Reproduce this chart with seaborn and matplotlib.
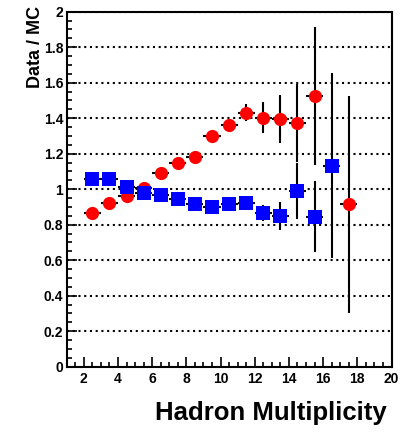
import numpy as np
import pandas as pd
import matplotlib
matplotlib.use("Agg")
import matplotlib.pyplot as plt
from matplotlib.ticker import MultipleLocator
import seaborn as sns

# ---- data ----
mult_a = [2.5, 3.5, 4.5, 5.5, 6.5, 7.5, 8.5, 9.5, 10.5, 11.5, 12.5, 13.5, 14.5, 15.5, 17.5]
ratio_a = [0.868, 0.921, 0.962, 1.006, 1.094, 1.146, 1.184, 1.300, 1.362, 1.432, 1.402, 1.394, 1.375, 1.526, 0.915]
err_a = [0.01, 0.01, 0.01, 0.015, 0.015, 0.02, 0.025, 0.03, 0.035, 0.05, 0.087, 0.135, 0.22, 0.39, 0.61]

mult_b = [2.5, 3.5, 4.5, 5.5, 6.5, 7.5, 8.5, 9.5, 10.5, 11.5, 12.5, 13.5, 14.5, 15.5, 16.5]
ratio_b = [1.056, 1.056, 1.012, 0.977, 0.968, 0.944, 0.915, 0.899, 0.915, 0.925, 0.868, 0.850, 0.990, 0.846, 1.133]
err_b = [0.01, 0.01, 0.01, 0.01, 0.01, 0.015, 0.015, 0.02, 0.02, 0.03, 0.045, 0.08, 0.16, 0.2, 0.52]

series_names = ["A", "B"]
x_ticks = [2, 4, 6, 8, 10, 12, 14, 16, 18, 20]
y_ticks = [0, 0.2, 0.4, 0.6, 0.8, 1, 1.2, 1.4, 1.6, 1.8, 2]
y_tick_labels = ["0", "0.2", "0.4", "0.6", "0.8", "1", "1.2", "1.4", "1.6", "1.8", "2"]

df = pd.concat([
    pd.DataFrame({"mult": mult_a, "ratio": ratio_a, "err": err_a, "series": series_names[0]}),
    pd.DataFrame({"mult": mult_b, "ratio": ratio_b, "err": err_b, "series": series_names[1]}),
], ignore_index=True)

sns.set_theme(style="white")
plt.rcParams["font.family"] = ["Liberation Sans", "DejaVu Sans"]
plt.rcParams["text.color"] = "black"
plt.rcParams["axes.labelcolor"] = "black"
plt.rcParams["xtick.color"] = "black"
plt.rcParams["ytick.color"] = "black"

fig = plt.figure(figsize=(4.01, 4.32), dpi=100)
ax = fig.add_axes([66.7 / 401, 1 - 366.7 / 432, (391.5 - 66.7) / 401, (366.7 - 11.7) / 432])

ax.set_xlim(1, 20)
ax.set_ylim(0, 2)

# dotted horizontal grid
ax.set_yticks(y_ticks)
ax.yaxis.grid(True, linestyle=(0, (1, 1.75)), color="black", linewidth=1.5, zorder=1)
ax.xaxis.grid(False)
ax.set_axisbelow(True)

colors = {"A": "#ff0000", "B": "#0000ff"}
markers = {"A": "o", "B": "s"}

for name in series_names:
    sub = df[df["series"] == name]
    ax.errorbar(sub["mult"], sub["ratio"], yerr=sub["err"], xerr=0.5, fmt="none",
                ecolor="black", elinewidth=1.5, capsize=0, zorder=3)
    sns.scatterplot(data=sub, x="mult", y="ratio", color=colors[name], marker=markers[name],
                    s=90, linewidth=0, legend=False, zorder=4, ax=ax)

ax.set_xticks(x_ticks)
ax.xaxis.set_minor_locator(MultipleLocator(0.5))
ax.yaxis.set_minor_locator(MultipleLocator(0.05))
ax.set_yticklabels(y_tick_labels)
ax.set_xticklabels([str(t) for t in x_ticks])

ax.tick_params(axis="both", which="major", direction="in", length=7.2, width=1.2,
               top=False, right=False, bottom=True, left=True, colors="black")
ax.tick_params(axis="both", which="minor", direction="in", length=3.8, width=1.2,
               top=False, right=False, bottom=True, left=True)
ax.tick_params(axis="x", pad=4, labelsize=10)
ax.tick_params(axis="y", pad=2.5, labelsize=10)
for lab in ax.get_xticklabels():
    lab.set_fontweight("bold")
for lab in ax.get_yticklabels():
    lab.set_fontweight("bold")
    lab.set_family(["Liberation Sans Narrow", "Liberation Sans", "DejaVu Sans"])

for sp in ax.spines.values():
    sp.set_visible(True)
    sp.set_color("black")
    sp.set_linewidth(1.5)

ax.set_xlabel("Hadron Multiplicity", loc="right", fontsize=18.5, fontweight="bold")
ax.xaxis.set_label_coords((387 - 66.7) / 324.8, -(401 - 366.7) / 355)
ax.set_ylabel("Data / MC", loc="top", fontsize=13, fontweight="bold")
ax.yaxis.set_label_coords(-(66.7 - 43.5) / 324.8, 1 + (11.7 - 6) / 355)

fig.savefig("out.png", dpi=100, facecolor="white")
